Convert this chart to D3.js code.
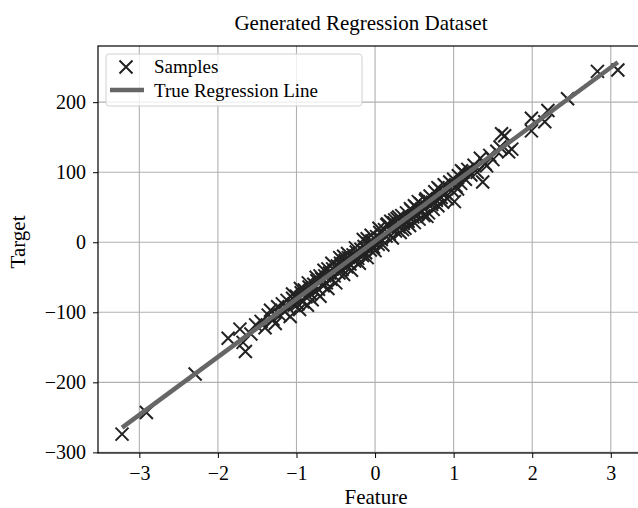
<!DOCTYPE html>
<html>
<head>
<meta charset="utf-8">
<script src="https://cdn.jsdelivr.net/npm/d3@7"></script>
<style>
  body { margin: 0; background: #fff; }
  svg { display: block; font-family: "Liberation Serif", "Times New Roman", serif; }
</style>
</head>
<body>
<div class="cont"></div>
<script>
var w = 638,
  h = 508;

// sample points: feature values and targets
var sampleX = [-3.22, -2.91, -2.29, -1.87, -1.72, -1.65, -1.68, -1.58, -1.52, -1.45, -1.40, -1.36, -1.33, -1.30, -1.27,
  -1.24, -1.21, -1.18, -1.15, -1.12, -1.10, -1.08, -1.05, -1.03, -1.00, -0.98, -0.96, -0.94, -0.92, -0.90,
  -0.88, -0.86, -0.84, -0.82, -0.80, -0.78, -0.76, -0.74, -0.72, -0.70, -0.68, -0.66, -0.64, -0.62, -0.60,
  -0.58, -0.56, -0.54, -0.52, -0.50, -0.48, -0.46, -0.44, -0.42, -0.40, -0.38, -0.36, -0.34, -0.32, -0.30,
  -0.28, -0.26, -0.24, -0.22, -0.20, -0.18, -0.16, -0.14, -0.12, -0.10, -0.08, -0.06, -0.04, -0.02, 0.00,
  -0.55, -0.45, -0.35, -0.25, -0.15, -0.05, -0.65, -0.75, -0.85, -0.95,
  0.02, 0.04, 0.06, 0.08, 0.10, 0.12, 0.14, 0.16, 0.18, 0.20, 0.22, 0.24, 0.26, 0.28, 0.30,
  0.32, 0.34, 0.36, 0.38, 0.40, 0.42, 0.44, 0.46, 0.48, 0.50, 0.52, 0.54, 0.56, 0.58, 0.60,
  0.62, 0.64, 0.66, 0.68, 0.70, 0.72, 0.74, 0.76, 0.78, 0.80, 0.82, 0.84, 0.86, 0.88, 0.90,
  0.92, 0.95, 0.98, 1.00, 1.03, 1.06, 1.09, 1.12, 1.15, 1.18, 1.22, 1.26, 1.30, 1.34, 1.37,
  1.40, 1.42, 1.46, 1.50, 1.55, 1.59, 1.61, 1.65, 1.70, 1.74, 1.99, 1.99, 2.16, 2.20, 2.45, 2.83, 3.09,
  0.15, 0.25, 0.35, 0.45, 0.55, 0.65, 0.73, 1.01, 1.05, 0.05,
  -1.05, -0.70, -0.40, -0.10, 0.20, 0.50, 0.80, 1.10, -0.60, 0.30];
var sampleY = [-274, -243, -188, -137, -124, -156, -143, -131, -118, -113, -122, -104, -97, -110, -116,
  -92, -104, -88, -99, -83, -94, -106, -80, -90, -77, -88, -96, -72, -85, -68,
  -78, -90, -64, -74, -82, -60, -70, -55, -67, -77, -52, -62, -48, -58, -66,
  -44, -53, -38, -48, -58, -34, -44, -30, -39, -46, -26, -35, -22, -31, -40,
  -18, -27, -14, -23, -30, -10, -19, -6, -15, -22, -2, -11, 2, -7, -12,
  -30, -22, -16, -8, 4, 10, -40, -50, -58, -66,
  8, -3, 14, 4, -4, 18, 9, 26, 12, 20, 6, 28, 16, 34, 22,
  14, 38, 27, 20, 42, 30, 24, 46, 36, 28, 50, 40, 33, 55, 44,
  38, 60, 37, 42, 66, 54, 47, 72, 60, 52, 76, 64, 57, 82, 70,
  62, 86, 74, 90, 80, 95, 84, 100, 90, 104, 96, 110, 100, 120, 86,
  112, 109, 124, 118, 130, 136, 155, 152, 129, 133, 177, 159, 172, 188, 205, 244, 246,
  25, 32, 18, 48, 58, 62, 57, 58, 76, 20,
  -74, -48, -20, 5, 30, 52, 78, 102, -38, 36];

// true regression line
var lineX = [-3.22, 3.09];
var lineY = [-264.6, 257];

var xTicks = [-3, -2, -1, 0, 1, 2, 3];
var yTicks = [-300, -200, -100, 0, 100, 200];

var pl = 98, pr = 643, pt = 46, pb = 453;

var svg = d3.select(".cont").append("svg")
  .attr("width", w)
  .attr("height", h);

var x = d3.scaleLinear().domain([-3.526, 3.41]).range([pl, pr]);
var y = d3.scaleLinear().domain([-300.9, 280.2]).range([pb, pt]);

// grid
svg.append("g").selectAll("line").data(xTicks).enter().append("line")
  .attr("x1", function (d) { return x(d); }).attr("x2", function (d) { return x(d); })
  .attr("y1", pt).attr("y2", pb)
  .attr("stroke", "#b0b0b0").attr("stroke-width", 1.1);
svg.append("g").selectAll("line").data(yTicks).enter().append("line")
  .attr("x1", pl).attr("x2", pr)
  .attr("y1", function (d) { return y(d); }).attr("y2", function (d) { return y(d); })
  .attr("stroke", "#b0b0b0").attr("stroke-width", 1.1);

// samples
var pts = sampleX.map(function (d, i) { return [d, sampleY[i]]; });
var r = 6.5;
svg.append("g").selectAll("path").data(pts).enter().append("path")
  .attr("d", function (d) {
    var cx = x(d[0]), cy = y(d[1]);
    return "M" + (cx - r) + "," + (cy - r) + "L" + (cx + r) + "," + (cy + r) +
      "M" + (cx - r) + "," + (cy + r) + "L" + (cx + r) + "," + (cy - r);
  })
  .attr("stroke", "#222").attr("stroke-width", 2).attr("fill", "none");

// line
svg.append("line")
  .attr("x1", x(lineX[0])).attr("y1", y(lineY[0]))
  .attr("x2", x(lineX[1])).attr("y2", y(lineY[1]))
  .attr("stroke", "#666").attr("stroke-width", 4.5);

// axes
var fmt = function (d) { return d < 0 ? "\u2212" + Math.abs(d) : d; };
var xAxis = d3.axisBottom(x).tickValues(xTicks).tickSize(5).tickPadding(8).tickFormat(fmt);
var yAxis = d3.axisLeft(y).tickValues(yTicks).tickSize(5).tickPadding(7).tickFormat(fmt);

var gx = svg.append("g").attr("transform", "translate(0," + pb + ")").call(xAxis);
var gy = svg.append("g").attr("transform", "translate(" + pl + ",0)").call(yAxis);
[gx, gy].forEach(function (g) {
  g.select(".domain").remove();
  g.selectAll("text").attr("font-size", 20).attr("fill", "#000")
    .attr("font-family", "Liberation Serif");
  g.selectAll("line").attr("stroke", "#000").attr("stroke-width", 1);
});

// frame
svg.append("rect")
  .attr("x", pl).attr("y", pt)
  .attr("width", pr - pl).attr("height", pb - pt)
  .attr("fill", "none").attr("stroke", "#000").attr("stroke-width", 1.2);

// labels
svg.append("text").attr("x", 361).attr("y", 30).attr("text-anchor", "middle")
  .attr("font-size", 21).text("Generated Regression Dataset");
svg.append("text").attr("x", 376).attr("y", 504).attr("text-anchor", "middle")
  .attr("font-size", 21).text("Feature");
svg.append("text").attr("transform", "translate(25,242) rotate(-90)")
  .attr("text-anchor", "middle").attr("font-size", 21).text("Target");

// legend
var lg = svg.append("g");
lg.append("rect").attr("x", 106).attr("y", 54).attr("width", 256).attr("height", 52)
  .attr("rx", 3).attr("fill", "rgba(255,255,255,0.8)").attr("stroke", "#d0d0d0");
lg.append("path")
  .attr("d", "M" + (126 - r) + "," + (67 - r) + "L" + (126 + r) + "," + (67 + r) +
    "M" + (126 - r) + "," + (67 + r) + "L" + (126 + r) + "," + (67 - r))
  .attr("stroke", "#222").attr("stroke-width", 2);
lg.append("line").attr("x1", 110).attr("x2", 144).attr("y1", 90).attr("y2", 90)
  .attr("stroke", "#666").attr("stroke-width", 4.5);
lg.append("text").attr("x", 154).attr("y", 73).attr("font-size", 19).text("Samples");
lg.append("text").attr("x", 154).attr("y", 97).attr("font-size", 19).text("True Regression Line");
</script>
</body>
</html>
